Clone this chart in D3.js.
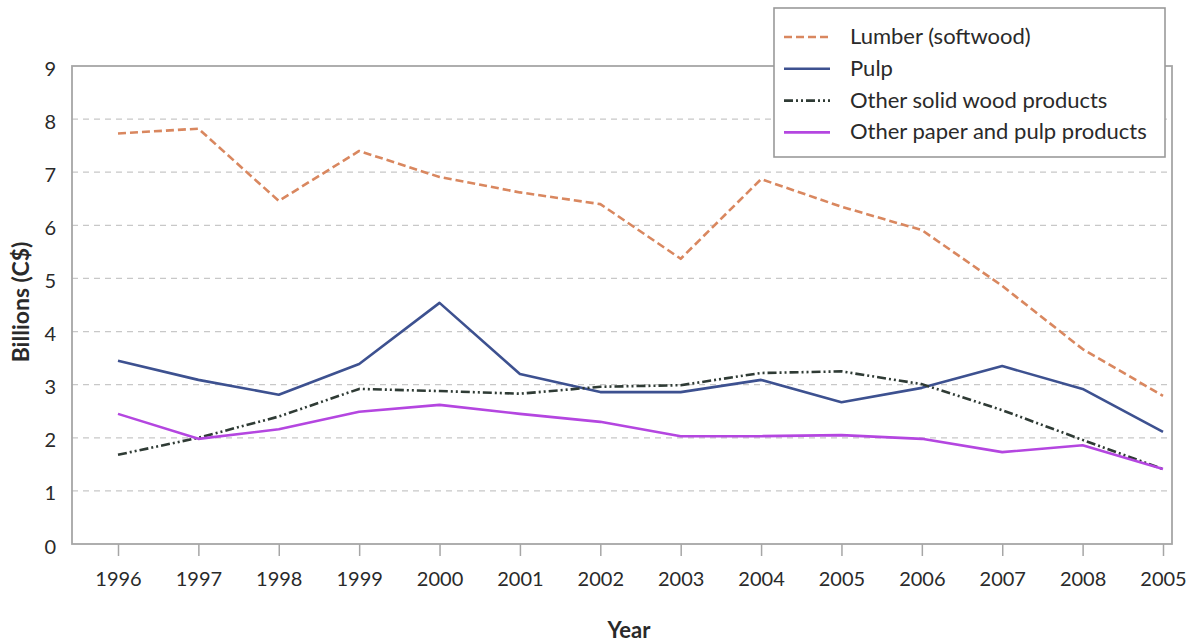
<!DOCTYPE html>
<html><head><meta charset="utf-8">
<script src="https://cdn.jsdelivr.net/npm/d3@7"></script>
<style>body{margin:0;background:#fff}svg{display:block}text{font-family:Lato,"Open Sans",sans-serif}</style>
</head><body>
<svg id="c" width="1195" height="642"></svg>
<script>
const years = [1996,1997,1998,1999,2000,2001,2002,2003,2004,2005,2006,2007,2008,2009];
const tickLabels = ["1996","1997","1998","1999","2000","2001","2002","2003","2004","2005","2006","2007","2008","2005"];
const yTicks = [0,1,2,3,4,5,6,7,8,9];
const seriesNames = ["Lumber (softwood)","Pulp","Other solid wood products","Other paper and pulp products"];
const lumber = [7.73,7.82,6.46,7.40,6.91,6.62,6.40,5.37,6.87,6.35,5.91,4.86,3.67,2.79];
const pulp   = [3.45,3.09,2.81,3.39,4.54,3.20,2.86,2.86,3.09,2.67,2.94,3.35,2.92,2.11];
const solid  = [1.68,2.00,2.40,2.92,2.88,2.83,2.96,2.99,3.22,3.25,3.01,2.52,1.96,1.41];
const paper  = [2.45,1.98,2.16,2.49,2.62,2.45,2.30,2.03,2.03,2.05,1.98,1.73,1.86,1.41];

const series = [
  {name:seriesNames[0], values:lumber, color:"#d9875f", dash:"8,4", w:2.6},
  {name:seriesNames[1], values:pulp,   color:"#3d5190", dash:null, w:2.6},
  {name:seriesNames[2], values:solid,  color:"#2f3b35", dash:"9,3,2,3,2,3", w:2.6},
  {name:seriesNames[3], values:paper,  color:"#b446e0", dash:null, w:2.6}
];

const svg = d3.select("#c");
const L=72, R=1172, T=66, B=544;
const x = d3.scalePoint().domain(years).range([118,1163]);
const y = d3.scaleLinear().domain([0,9]).range([B,T]);

// gridlines
svg.append("g").selectAll("line").data(yTicks.filter(d=>d>0&&d<9)).join("line")
  .attr("x1",L).attr("x2",R).attr("y1",d=>y(d)).attr("y2",d=>y(d))
  .attr("stroke","#c8c8c8").attr("stroke-width",1.2).attr("stroke-dasharray","6,5");

// frame
svg.append("rect").attr("x",L).attr("y",T).attr("width",R-L).attr("height",B-T)
  .attr("fill","none").attr("stroke","#a6a6a6").attr("stroke-width",1.8);

// x axis
const xa = svg.append("g").attr("transform",`translate(0,${B})`)
  .call(d3.axisBottom(x).tickSize(12).tickFormat((d,i)=>tickLabels[i]));
xa.select(".domain").remove();
xa.selectAll(".tick line").attr("stroke","#a6a6a6").attr("stroke-width",1.5);
xa.selectAll("text").attr("y",42).attr("dy",null).attr("font-size",20).attr("fill","#2a2a2a");

// y axis
const ya = svg.append("g").attr("transform",`translate(${L},0)`)
  .call(d3.axisLeft(y).tickValues(yTicks).tickSize(0).tickPadding(16).tickFormat(d3.format("d")));
ya.select(".domain").remove();
ya.selectAll("text").attr("font-size",20).attr("dy","0.45em").attr("fill","#2a2a2a");

// axis titles
svg.append("text").attr("x",629).attr("y",638).attr("text-anchor","middle")
  .attr("font-size",22).attr("font-weight","bold").attr("fill","#2a2a2a").text("Year");
svg.append("text").attr("transform","translate(29,302) rotate(-90)").attr("text-anchor","middle")
  .attr("font-size",23).attr("font-weight","bold").attr("fill","#2a2a2a").text("Billions (C$)");

// lines
const line = d3.line().x((d,i)=>x(years[i])).y(d=>y(d));
svg.append("g").selectAll("path").data(series).join("path")
  .attr("d",d=>line(d.values)).attr("fill","none")
  .attr("stroke",d=>d.color).attr("stroke-width",d=>d.w)
  .attr("stroke-dasharray",d=>d.dash).attr("stroke-linejoin","round");

// legend
const lg = svg.append("g");
lg.append("rect").attr("x",774).attr("y",8).attr("width",391).attr("height",149)
  .attr("fill","#fff").attr("stroke","#9a9a9a").attr("stroke-width",1.6);
const rows = lg.selectAll("g").data(series).join("g")
  .attr("transform",(d,i)=>`translate(0,${37+i*31.8})`);
rows.append("line").attr("x1",784).attr("x2",830).attr("y1",0).attr("y2",0)
  .attr("stroke",d=>d.color).attr("stroke-width",2.6).attr("stroke-dasharray",d=>d.dash);
rows.append("text").attr("x",850).attr("y",7).attr("font-size",22).attr("fill","#2a2a2a").text(d=>d.name);
</script>
</body></html>
